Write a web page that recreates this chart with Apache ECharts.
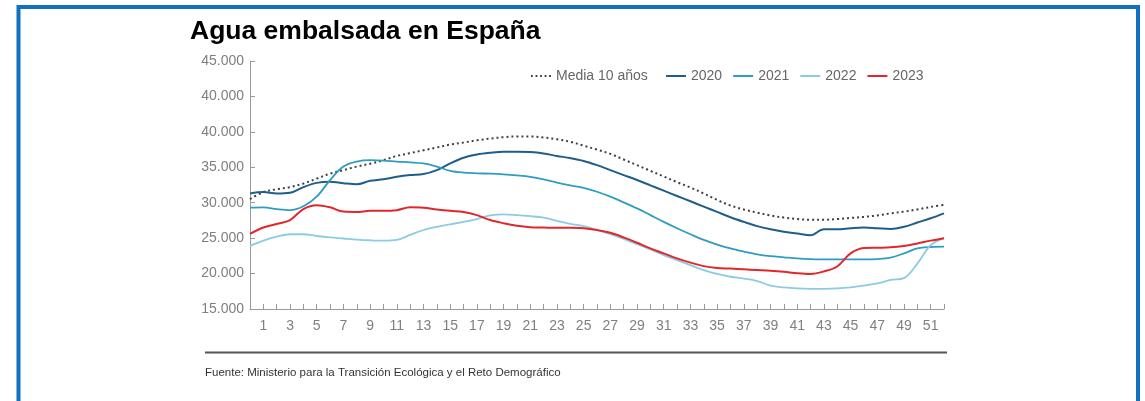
<!DOCTYPE html>
<html>
<head>
<meta charset="utf-8">
<style>
  html, body { margin: 0; padding: 0; background: #fff; }
  #chart { width: 1145px; height: 401px; }
</style>
<script src="https://cdn.jsdelivr.net/npm/echarts@6/dist/echarts.min.js"></script>
</head>
<body>
<div id="chart"></div>
<script>
// semanas (0 = inicio del año hidrológico en el gráfico)
var weeks = [0, 1, 2, 3, 4, 5, 6, 7, 8, 9, 10, 11, 12, 13, 14, 15, 16, 17, 18, 19,
    20, 21, 22, 23, 24, 25, 26, 27, 28, 29, 30, 31, 32, 33, 34, 35, 36, 37, 38, 39,
    40, 41, 42, 43, 44, 45, 46, 47, 48, 49, 50, 51, 52];

// etiquetas del eje Y, tal como aparecen en el original
var yTickLabels = ['15.000', '20.000', '25.000', '30.000', '35.000', '40.000', '40.000', '45.000'];

var media10 = [30500, 31500, 31900, 32200, 32700, 33400, 34100, 34600, 35100, 35500,
    36000, 36600, 37000, 37400, 37800, 38200, 38500, 38800, 39050, 39250,
    39350, 39350, 39200, 38950, 38600, 38050, 37500, 36900, 36100, 35300,
    34500, 33700, 32900, 32150, 31300, 30400, 29600, 29050, 28600, 28200,
    27900, 27700, 27600, 27600, 27700, 27850, 28000, 28200, 28500, 28750,
    29050, 29400, 29700];

var y2020 = [31300, 31500, 31300, 31400, 32200, 32800, 32950, 32750, 32600, 33100,
    33300, 33650, 33900, 34050, 34600, 35550, 36350, 36800, 37050, 37200,
    37200, 37150, 36950, 36600, 36300, 35900, 35300, 34600, 33900, 33200,
    32450, 31700, 30950, 30200, 29450, 28700, 27950, 27300, 26700, 26250,
    25900, 25650, 25400, 26250, 26250, 26400, 26500, 26400, 26300, 26600,
    27200, 27800, 28500];

var y2021 = [29300, 29350, 29100, 28950, 29500, 30850, 33200, 35100, 35800, 36000,
    35950, 35800, 35700, 35550, 35100, 34500, 34250, 34150, 34100, 34000,
    33850, 33650, 33300, 32850, 32450, 32100, 31550, 30850, 30050, 29200,
    28250, 27300, 26400, 25550, 24750, 24100, 23550, 23100, 22700, 22450,
    22300, 22150, 22050, 22000, 22000, 22000, 22000, 22050, 22250, 22850,
    23550, 23750, 23800];

var y2022 = [23900, 24650, 25200, 25550, 25550, 25300, 25100, 24950, 24800, 24700,
    24650, 24750, 25450, 26150, 26600, 26950, 27300, 27700, 28200, 28350,
    28250, 28100, 27900, 27450, 27000, 26700, 26150, 25550, 24900, 24150,
    23400, 22600, 21900, 21200, 20500, 19950, 19550, 19300, 18950, 18300,
    18050, 17900, 17850, 17850, 17900, 18050, 18300, 18600, 19100, 19350,
    21400, 24000, 25000];

var y2023 = [25600, 26500, 27000, 27550, 29100, 29650, 29350, 28750, 28700, 28850,
    28850, 28950, 29350, 29300, 29050, 28850, 28700, 28250, 27550, 27100,
    26750, 26550, 26500, 26450, 26450, 26400, 26150, 25750, 25100, 24350,
    23550, 22850, 22150, 21550, 21050, 20800, 20700, 20600, 20500, 20400,
    20250, 20050, 19950, 20300, 21000, 22850, 23600, 23650, 23700, 23900,
    24250, 24650, 25000];

var FONT = '"Liberation Sans", Arial, sans-serif';

// iconos de la leyenda: línea punteada y línea continua
var DOTTED_ICON = 'path://M0,0h2v2h-2zM5,0h2v2h-2zM10,0h2v2h-2zM15,0h2v2h-2zM20,0h2v2h-2z';
var SOLID_ICON = 'rect';

function lineSeries(name, data, color, width, type) {
    return {
        name: name,
        type: 'line',
        data: data,
        smooth: 0.35,
        symbol: 'none',
        lineStyle: { color: color, width: width, type: type || 'solid' },
        itemStyle: { color: color },
        emphasis: { disabled: true }
    };
}

var legendText = { fontFamily: FONT, fontSize: 14, color: '#666' };

var chart = echarts.init(document.getElementById('chart'));
chart.setOption({
    animation: false,
    backgroundColor: '#fff',
    textStyle: { fontFamily: FONT },
    title: {
        text: 'Agua embalsada en España',
        left: 190,
        top: 18,
        padding: 0,
        textStyle: { fontFamily: FONT, fontSize: 26.5, fontWeight: 'bold', color: '#000' }
    },
    legend: [
        {
            data: [{ name: 'Media 10 años', icon: DOTTED_ICON }],
            left: 526,
            top: 64,
            itemWidth: 20,
            itemHeight: 2,
            textStyle: legendText
        },
        {
            data: ['2020', '2021', '2022', '2023'],
            icon: SOLID_ICON,
            left: 661,
            top: 64,
            itemWidth: 20,
            itemHeight: 2,
            itemGap: 11,
            textStyle: legendText
        }
    ],
    grid: { left: 250, right: 201, top: 61, bottom: 92, containLabel: false },
    xAxis: {
        type: 'category',
        data: weeks,
        boundaryGap: false,
        axisLine: { lineStyle: { color: '#9a9a9a', width: 1 } },
        axisTick: {
            inside: true,
            length: 5,
            interval: 0,
            lineStyle: { color: '#9a9a9a' }
        },
        axisLabel: {
            interval: function (index, value) { return Number(value) % 2 === 1; },
            margin: 10,
            fontFamily: FONT,
            fontSize: 14,
            color: '#7f7f7f'
        },
        splitLine: { show: false }
    },
    yAxis: {
        type: 'value',
        min: 15000,
        max: 50000,
        interval: 5000,
        axisLine: { show: true, lineStyle: { color: '#9a9a9a', width: 1 } },
        axisTick: { show: true, inside: true, length: 5, lineStyle: { color: '#9a9a9a' } },
        axisLabel: {
            margin: 6,
            fontFamily: FONT,
            fontSize: 14,
            color: '#7f7f7f',
            formatter: function (v) {
                return yTickLabels[Math.round((v - 15000) / 5000)];
            }
        },
        splitLine: { show: false }
    },
    series: [
        lineSeries('Media 10 años', media10, '#404040', 2, [2, 3]),
        lineSeries('2020', y2020, '#1f5d8a', 2),
        lineSeries('2021', y2021, '#2f9cc2', 1.8),
        lineSeries('2022', y2022, '#8ccbe2', 1.8),
        lineSeries('2023', y2023, '#e0282c', 2)
    ],
    graphic: [
        {
            type: 'rect',
            shape: { x: 18.5, y: 7, width: 1119.5, height: 430 },
            style: { fill: 'none', stroke: '#1170c0', lineWidth: 4 },
            silent: true
        },
        {
            type: 'line',
            shape: { x1: 205, y1: 352.5, x2: 947, y2: 352.5 },
            style: { stroke: '#555', lineWidth: 2 },
            silent: true
        },
        {
            type: 'text',
            left: 205,
            top: 367,
            style: {
                text: 'Fuente: Ministerio para la Transición Ecológica y el Reto Demográfico',
                font: '11.5px ' + FONT,
                fill: '#333'
            },
            silent: true
        }
    ]
});
</script>
</body>
</html>
